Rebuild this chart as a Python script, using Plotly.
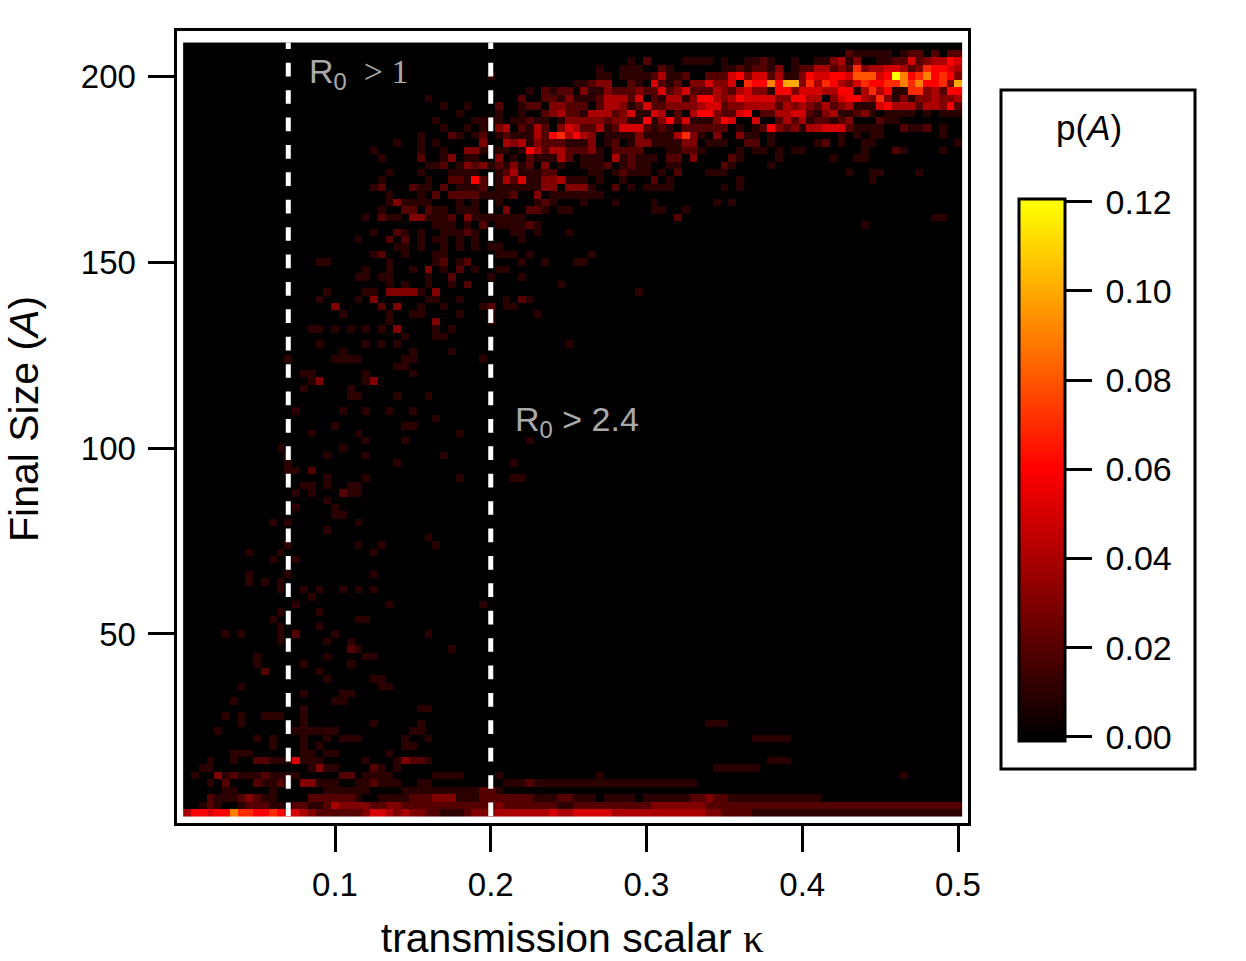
import plotly.graph_objects as go

W, H = 1246, 961

KAPPA = [round(0.005 * (i + 1), 3) for i in range(100)]
FINAL_SIZE = [2 * (i + 1) for i in range(104)]
X_TICKS = [0.1, 0.2, 0.3, 0.4, 0.5]
Y_TICKS = [50, 100, 150, 200]
CB_TICKS = [0.0, 0.02, 0.04, 0.06, 0.08, 0.10, 0.12]
R0_THRESHOLDS = [0.07, 0.2]

# p(A): {final size: {first kappa column: hits per 100, one hex digit per cell}}
P_ROWS = {
    206: {85: "211111", 92: "122", 96: "2", 98: "22"},
    204: {57: "1", 59: "2", 64: "1111", 69: "1", 72: "1121", 78: "1", 81: "11", 83: "34", 85: "1", 86: "3",
          89: "11", 91: "22", 93: "5", 94: "23", 96: "44", 98: "65"},
    202: {53: "1", 56: "111", 61: "21", 69: "11212213", 78: "1224423273445542376654"},
    200: {39: "1", 53: "11", 56: "111", 59: "124112", 67: "222563552411365566588856c96796763"},
    198: {50: "11233", 57: "21", 60: "5212", 65: "335335", 72: "76696aa37476435766779796673a"},
    196: {44: "1", 46: "21", 48: "22", 51: "31132 22322 52352 22432 45331 66355 54466 14746 11773 4266"},
    194: {31: "1", 43: "2", 46: "22131 11244 42502 14413 66434 65555 33664 40356 64373 13133 4334"},
    192: {33: "1", 36: "1", 40: "2", 43: "122",
          47: "33222 02443 12522 33334 55233 44442 43432 42341 11564 44244 362"},
    190: {35: "1", 40: "1", 43: "1", 46: "23422 14442 35115 40204 66322 56022 44552 13411 23101 11101 0111"},
    188: {32: "1", 37: "1111", 42: "11211013", 50: "33332 33116 13625 11136 50050 02424 12212 30002 11"},
    186: {33: "1", 36: "1", 38: "1", 40: "34", 43: "2142", 48: "35",
          50: "42241 25552 12102 22222 01012 63231 44555 21111 00211 201"},
    184: {30: "1", 34: "21", 37: "12", 40: "12111 42674 64301 11131 11147 31030 03110 1", 84: "1", 86: "1",
          88: "11", 97: "1"},
    182: {27: "1", 30: "1", 32: "1", 38: "3", 41: "43413 22211 13012 01331 11133 0111", 72: "22", 75: "1",
          81: "12", 84: "1", 87: "11", 99: "1"},
    180: {24: "1", 30: "1", 33: "1", 36: "331", 40: "11", 43: "16424 42223 10222 20001 1221", 71: "1", 73: "11",
          76: "1", 78: "11", 87: "1", 91: "21", 97: "1"},
    178: {25: "1", 30: "2", 33: "13", 36: "11", 40: "3", 42: "1", 44: "21114 20111 04121 11022 03", 70: "21",
          76: "1", 83: "1", 86: "11"},
    176: {31: "112", 35: "13231 21312 03010 0", 51: "11120 1211", 62: "11", 69: "21", 75: "1"},
    174: {26: "1", 30: "1", 34: "1111", 40: "12411 122", 52: "11", 55: "12111", 61: "1", 63: "2", 67: "111",
          85: "1", 88: "11", 94: "1"},
    172: {25: "1", 31: "1", 34: "22162", 40: "14251 13341 11", 53: "1", 56: "1", 60: "2", 62: "1", 71: "1", 88: "1"},
    170: {24: "12", 29: "211", 33: "2", 35: "1112", 40: "11111 13303 331", 55: "2", 57: "1", 59: "1111", 69: "1",
          71: "1"},
    168: {26: "1", 30: "1", 32: "2", 34: "2222", 38: "11", 40: "112", 45: "3", 47: "111", 50: "1111"},
    166: {26: "13111", 31: "1", 35: "1", 37: "1", 40: "1", 45: "121", 51: "1", 55: "1", 60: "1", 68: "1", 70: "1"},
    164: {25: "1", 28: "22", 31: "211", 35: "111", 41: "3", 44: "221", 48: "11", 60: "11", 64: "1"},
    162: {23: "1", 25: "211", 29: "331112", 36: "3111", 40: "1111", 63: "2", 96: "11"},
    160: {32: "111", 36: "1", 38: "2", 40: "111121", 87: "1"},
    158: {24: "1", 27: "21", 30: "1", 33: "111", 36: "21", 42: "11", 45: "1", 49: "1"},
    156: {22: "1", 26: "2", 28: "2", 30: "1", 32: "11", 35: "1", 37: "1", 43: "1"},
    154: {27: "11", 30: "1", 33: "1", 35: "1", 37: "1", 39: "11"},
    152: {24: "12", 28: "1", 32: "11", 40: "111", 44: "1", 52: "1"},
    150: {17: "11", 26: "1", 32: "12", 35: "12", 43: "1", 46: "1", 50: "11"},
    148: {23: "1", 26: "1", 29: "1", 31: "3", 33: "1", 35: "2", 37: "1", 40: "11"},
    146: {22: "11", 25: "11", 31: "1", 34: "2", 39: "1", 43: "1"},
    144: {26: "1", 28: "1", 31: "1", 34: "1", 36: "2", 48: "1"},
    142: {18: "1", 23: "11", 26: "3333", 30: "1", 32: "3", 58: "1"},
    140: {17: "1", 22: "1", 24: "3", 31: "11", 35: "1", 41: "1", 43: "21"},
    138: {19: "3", 25: "2", 27: "3", 30: "1", 33: "1", 38: "12", 41: "11"},
    136: {20: "1", 26: "1", 29: "11", 35: "1", 39: "1", 45: "1"},
    134: {26: "1", 32: "3", 39: "1"},
    132: {16: "11", 19: "1", 21: "1", 23: "1", 25: "1", 27: "3", 32: "1", 34: "1"},
    130: {28: "1", 32: "11"},
    128: {17: "1", 23: "1", 25: "1", 27: "1", 49: "1"},
    126: {20: "1", 29: "1", 34: "1"},
    124: {13: "1", 19: "1111", 28: "11", 38: "1"},
    122: {27: "11"},
    120: {15: "11", 23: "1", 29: "1"},
    118: {16: "13", 23: "13"},
    116: {15: "1", 21: "1"},
    114: {21: "11", 27: "1", 31: "1"},
    110: {14: "1", 20: "1", 23: "1", 26: "1", 29: "1"},
    108: {32: "1"},
    106: {19: "1", 28: "11"},
    104: {16: "1", 22: "1", 35: "1"},
    102: {23: "1", 28: "1", 44: "1"},
    100: {12: "1", 20: "1"},
    98: {13: "1", 18: "1", 23: "1", 33: "1"},
    96: {13: "1", 27: "1", 42: "1"},
    94: {13: "11", 16: "2"},
    92: {18: "1", 23: "1", 35: "1", 42: "11"},
    90: {15: "11", 18: "1", 21: "11"},
    88: {14: "1", 16: "1", 20: "211"},
    86: {18: "1"},
    84: {14: "1", 19: "1"},
    82: {19: "11"},
    80: {11: "1", 13: "1", 22: "1"},
    78: {18: "1"},
    76: {31: "1"},
    74: {13: "1", 22: "1", 25: "1", 32: "1"},
    72: {8: "1", 12: "1", 24: "1"},
    70: {11: "1", 14: "1"},
    66: {8: "1", 13: "1", 24: "1"},
    64: {8: "1", 10: "1", 12: "1"},
    62: {12: "1", 15: "1", 17: "1", 20: "1", 22: "1", 24: "1"},
    60: {16: "1"},
    58: {14: "1", 26: "1", 38: "1"},
    56: {12: "1", 17: "1"},
    54: {11: "1", 22: "11"},
    52: {12: "1", 17: "1"},
    50: {5: "1", 7: "1", 12: "1", 14: "2", 19: "1", 31: "1"},
    48: {12: "1", 18: "1", 21: "1"},
    46: {21: "21", 34: "1"},
    44: {9: "1", 18: "1", 23: "11"},
    42: {9: "1", 15: "1", 21: "1"},
    40: {10: "2", 17: "1"},
    38: {18: "1", 24: "11"},
    36: {7: "1", 25: "11"},
    34: {15: "1", 20: "11"},
    32: {6: "1", 19: "11"},
    30: {15: "1", 30: "11"},
    28: {5: "1", 7: "1", 10: "111", 15: "1"},
    26: {7: "1", 15: "1", 24: "1", 30: "1", 67: "111"},
    24: {4: "1", 14: "11", 16: "1111", 29: "11"},
    22: {9: "1", 11: "1", 15: "1", 18: "1", 20: "111", 28: "1", 31: "1", 73: "11111"},
    20: {11: "1", 15: "1", 17: "1", 28: "11"},
    18: {6: "111", 15: "11", 18: "11", 26: "1"},
    16: {3: "1", 6: "1", 9: "2211", 13: "15111", 23: "1", 27: "13221", 75: "111"},
    14: {2: "11", 16: "1311", 24: "21", 27: "1", 68: "111111"},
    12: {1: "1", 4: "312111", 10: "21111", 20: "22", 23: "1111", 32: "1111", 40: "1", 53: "1", 92: "1"},
    10: {3: "1", 5: "2", 9: "21121", 15: "33111", 22: "112111", 30: "11", 41: "1112",
         45: "11111 11111 11111 11111 1"},
    8: {5: "11", 11: "1", 18: "111111", 28: "11111 11111 221"},
    6: {3: "2111", 7: "23211", 16: "222222", 22: "1", 25: "1111", 29: "222333111", 38: "2222222", 45: "111", 48: "22",
        50: "111", 54: "1111", 59: "111111", 65: "22322", 70: "11111 11111 11"},
    4: {2: "121", 7: "1222", 11: "11", 14: "2211", 18: "2433332233", 28: "22222 22222 22", 40: "3", 41: "2222222",
        48: "11", 50: "22222 22222 33333 33", 67: "22222 22222 22222 22222 22222 22222 222"},
    2: {0: "46656 69776 67655 43", 17: "222222", 23: "35543 43322 11123 33", 40: "44444 44544", 50: "55555",
        55: "44444 44444 44", 67: "33", 69: "2222", 73: "11111 11111 11111 11111 11111 11"},
}

ZMIN, ZMAX = -0.0009, 0.1206


def _stop(value):
    return (value - ZMIN) / (ZMAX - ZMIN)


def _px_x(px):
    return px / W


def _px_y(py):
    return 1 - py / H


z = [[0.0] * len(KAPPA) for _ in FINAL_SIZE]
for size, row in P_ROWS.items():
    for start, levels in row.items():
        for i, ch in enumerate(levels.replace(" ", "")):
            z[size // 2 - 1][start + i] = int(ch, 16) / 100

hot = [[0, "rgb(0,0,0)"], [_stop(0.0), "rgb(0,0,0)"], [_stop(0.06), "rgb(255,0,0)"],
       [_stop(0.12), "rgb(255,255,0)"], [1, "rgb(255,255,0)"]]

fig = go.Figure()
fig.add_trace(go.Heatmap(
    x=KAPPA, y=FINAL_SIZE, z=z,
    zmin=ZMIN, zmax=ZMAX, colorscale=hot,
    colorbar=dict(
        thickness=46, thicknessmode="pixels", len=542, lenmode="pixels",
        x=_px_x(1018.5), xanchor="left", xpad=0,
        y=_px_y(741), yanchor="bottom", ypad=0,
        outlinecolor="black", outlinewidth=3,
        tickmode="array", tickvals=CB_TICKS, ticktext=[f"\u2009{t:.2f}" for t in CB_TICKS],
        ticks="outside", ticklen=26, tickwidth=3, tickcolor="black",
        tickfont=dict(family="Liberation Sans", size=34, color="black"),
    ),
))

# R0 の境界線（白い破線）
for kappa in R0_THRESHOLDS:
    fig.add_trace(go.Scatter(
        x=[kappa, kappa], y=[1, 209], mode="lines",
        line=dict(color="white", width=5, dash="13.7px,13.7px"),
        showlegend=False, hoverinfo="skip",
    ))

axis_font = dict(family="Liberation Sans", size=33, color="black")
fig.update_xaxes(
    domain=[_px_x(176.5), _px_x(968)], range=[-0.00177, 0.50642],
    tickmode="array", tickvals=X_TICKS, ticktext=[f"{t:.1f}" for t in X_TICKS],
    ticks="outside", ticklen=26, tickwidth=3, tickcolor="black", tickfont=axis_font,
    showline=True, linecolor="black", linewidth=3, mirror=True, showgrid=False, zeroline=False,
    ticklabelstandoff=4,
    title=dict(
        text='transmission scalar <span style="font-family:Liberation Serif">κ</span>',
        font=dict(family="Liberation Sans", size=41, color="black"), standoff=24,
    ),
)
fig.update_yaxes(
    domain=[_px_y(823.3), _px_y(31)], range=[-0.89, 212.1],
    tickmode="array", tickvals=Y_TICKS, tickfont=axis_font,
    ticks="outside", ticklen=26, tickwidth=3, tickcolor="black",
    showline=True, linecolor="black", linewidth=3, mirror=True, showgrid=False, zeroline=False,
    ticklabelstandoff=5,
)

fig.update_layout(
    width=W, height=H, margin=dict(l=0, r=0, t=0, b=0, autoexpand=False),
    paper_bgcolor="white", plot_bgcolor="white", showlegend=False,
    shapes=[dict(
        type="rect", xref="paper", yref="paper", layer="below",
        x0=_px_x(1001), x1=_px_x(1195), y0=_px_y(769), y1=_px_y(90),
        line=dict(color="black", width=3), fillcolor="white",
    )],
    annotations=[
        dict(xref="paper", yref="paper", x=_px_x(24), y=_px_y(419), xanchor="center", yanchor="middle",
             text="Final Size (<i>A</i>)", textangle=-90,
             showarrow=False, font=dict(family="Liberation Sans", size=41, color="black")),
        dict(xref="paper", yref="paper", x=_px_x(1089), y=_px_y(127), xanchor="center", yanchor="middle",
             text="p(<i>A</i>)",
             showarrow=False, font=dict(family="Liberation Sans", size=35, color="black")),
        dict(x=0.0820, y=200.8, xanchor="left",
             text='R<sub>0</sub><span style="font-family:Liberation Serif">  &gt; 1</span>',
             showarrow=False, font=dict(family="Liberation Sans", size=34, color="#aaaaaa")),
        dict(x=0.2143, y=107, xanchor="left", text="R<sub>0</sub> &gt; 2.4",
             showarrow=False, font=dict(family="Liberation Sans", size=34, color="#aaaaaa")),
    ],
)

# body の既定余白 8px を消して、図をウィンドウいっぱいに置く
fig.write_html("out.html", config={"displayModeBar": False},
               post_script="document.body.style.margin='0';")
